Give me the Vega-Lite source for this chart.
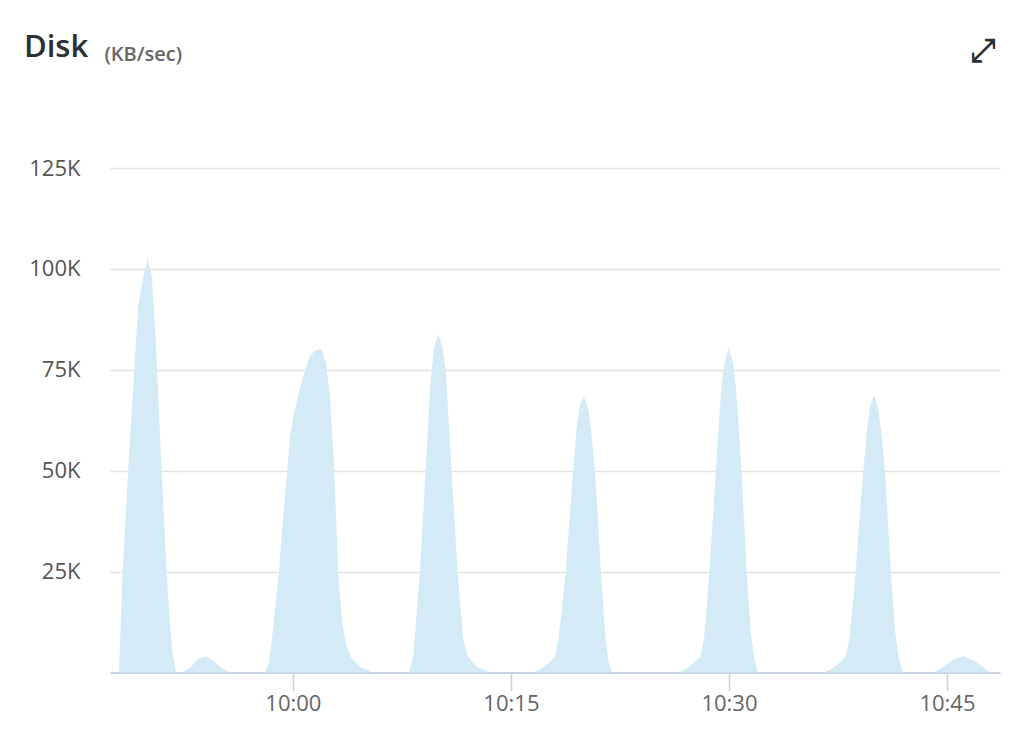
{
  "$schema": "https://vega.github.io/schema/vega-lite/v6.json",
  "width": 890,
  "height": 504.5,
  "autosize": {"type": "none"},
  "padding": {"left": 110, "top": 168, "right": 26, "bottom": 83.5},
  "background": "white",
  "config": {"view": {"stroke": null}, "font": "Open Sans"},
  "title": {"text": "Disk", "anchor": "start", "frame": "group", "dx": -86, "dy": 57, "fontSize": 31, "fontWeight": 600, "color": "#2b2f36", "font": "Open Sans", "baseline": "alphabetic"},
  "data": {"values": [
    {"t": "2024-01-01T09:47:25", "v": 0},
    {"t": "2024-01-01T09:48:02", "v": 0},
    {"t": "2024-01-01T09:48:17", "v": 24800},
    {"t": "2024-01-01T09:48:40", "v": 50000},
    {"t": "2024-01-01T09:49:05", "v": 74800},
    {"t": "2024-01-01T09:49:21", "v": 90700},
    {"t": "2024-01-01T09:49:42", "v": 98100},
    {"t": "2024-01-01T09:50:00", "v": 102500},
    {"t": "2024-01-01T09:50:17", "v": 98500},
    {"t": "2024-01-01T09:50:34", "v": 82400},
    {"t": "2024-01-01T09:50:58", "v": 50000},
    {"t": "2024-01-01T09:51:19", "v": 24700},
    {"t": "2024-01-01T09:51:29", "v": 14800},
    {"t": "2024-01-01T09:51:43", "v": 4800},
    {"t": "2024-01-01T09:51:57", "v": 200},
    {"t": "2024-01-01T09:52:20", "v": 0},
    {"t": "2024-01-01T09:52:55", "v": 1200},
    {"t": "2024-01-01T09:53:29", "v": 3300},
    {"t": "2024-01-01T09:54:01", "v": 4000},
    {"t": "2024-01-01T09:54:31", "v": 3000},
    {"t": "2024-01-01T09:55:05", "v": 1100},
    {"t": "2024-01-01T09:55:40", "v": 0},
    {"t": "2024-01-01T09:58:04", "v": 0},
    {"t": "2024-01-01T09:58:21", "v": 2300},
    {"t": "2024-01-01T09:58:38", "v": 10600},
    {"t": "2024-01-01T09:59:02", "v": 24800},
    {"t": "2024-01-01T09:59:20", "v": 38700},
    {"t": "2024-01-01T09:59:37", "v": 50000},
    {"t": "2024-01-01T09:59:48", "v": 58500},
    {"t": "2024-01-01T10:00:08", "v": 65100},
    {"t": "2024-01-01T10:00:29", "v": 70500},
    {"t": "2024-01-01T10:00:50", "v": 74800},
    {"t": "2024-01-01T10:01:10", "v": 78300},
    {"t": "2024-01-01T10:01:31", "v": 79800},
    {"t": "2024-01-01T10:01:56", "v": 80200},
    {"t": "2024-01-01T10:02:16", "v": 76900},
    {"t": "2024-01-01T10:02:33", "v": 68400},
    {"t": "2024-01-01T10:02:51", "v": 50000},
    {"t": "2024-01-01T10:03:07", "v": 24800},
    {"t": "2024-01-01T10:03:24", "v": 12200},
    {"t": "2024-01-01T10:03:42", "v": 6400},
    {"t": "2024-01-01T10:04:02", "v": 3600},
    {"t": "2024-01-01T10:04:37", "v": 1500},
    {"t": "2024-01-01T10:05:11", "v": 500},
    {"t": "2024-01-01T10:05:25", "v": 0},
    {"t": "2024-01-01T10:07:59", "v": 0},
    {"t": "2024-01-01T10:08:17", "v": 4000},
    {"t": "2024-01-01T10:08:44", "v": 24800},
    {"t": "2024-01-01T10:09:08", "v": 50000},
    {"t": "2024-01-01T10:09:28", "v": 72100},
    {"t": "2024-01-01T10:09:43", "v": 80400},
    {"t": "2024-01-01T10:10:00", "v": 83900},
    {"t": "2024-01-01T10:10:18", "v": 80600},
    {"t": "2024-01-01T10:10:31", "v": 74800},
    {"t": "2024-01-01T10:10:55", "v": 50000},
    {"t": "2024-01-01T10:11:20", "v": 24800},
    {"t": "2024-01-01T10:11:43", "v": 8500},
    {"t": "2024-01-01T10:12:01", "v": 4100},
    {"t": "2024-01-01T10:12:38", "v": 1500},
    {"t": "2024-01-01T10:13:13", "v": 500},
    {"t": "2024-01-01T10:13:26", "v": 0},
    {"t": "2024-01-01T10:16:30", "v": 0},
    {"t": "2024-01-01T10:17:00", "v": 700},
    {"t": "2024-01-01T10:17:34", "v": 2300},
    {"t": "2024-01-01T10:18:02", "v": 4000},
    {"t": "2024-01-01T10:18:15", "v": 7700},
    {"t": "2024-01-01T10:18:29", "v": 15100},
    {"t": "2024-01-01T10:18:46", "v": 24600},
    {"t": "2024-01-01T10:19:01", "v": 37400},
    {"t": "2024-01-01T10:19:17", "v": 50000},
    {"t": "2024-01-01T10:19:31", "v": 60600},
    {"t": "2024-01-01T10:19:45", "v": 66300},
    {"t": "2024-01-01T10:20:01", "v": 68400},
    {"t": "2024-01-01T10:20:19", "v": 65500},
    {"t": "2024-01-01T10:20:33", "v": 58900},
    {"t": "2024-01-01T10:20:47", "v": 50000},
    {"t": "2024-01-01T10:21:12", "v": 24600},
    {"t": "2024-01-01T10:21:28", "v": 10600},
    {"t": "2024-01-01T10:21:42", "v": 3100},
    {"t": "2024-01-01T10:21:58", "v": 0},
    {"t": "2024-01-01T10:26:31", "v": 0},
    {"t": "2024-01-01T10:26:58", "v": 700},
    {"t": "2024-01-01T10:27:33", "v": 2300},
    {"t": "2024-01-01T10:28:03", "v": 4000},
    {"t": "2024-01-01T10:28:17", "v": 8500},
    {"t": "2024-01-01T10:28:28", "v": 16000},
    {"t": "2024-01-01T10:28:39", "v": 24900},
    {"t": "2024-01-01T10:28:53", "v": 37400},
    {"t": "2024-01-01T10:29:06", "v": 50000},
    {"t": "2024-01-01T10:29:19", "v": 62200},
    {"t": "2024-01-01T10:29:30", "v": 71300},
    {"t": "2024-01-01T10:29:43", "v": 77100},
    {"t": "2024-01-01T10:29:59", "v": 80500},
    {"t": "2024-01-01T10:30:17", "v": 76700},
    {"t": "2024-01-01T10:30:29", "v": 70500},
    {"t": "2024-01-01T10:30:45", "v": 57200},
    {"t": "2024-01-01T10:30:52", "v": 50000},
    {"t": "2024-01-01T10:31:13", "v": 24900},
    {"t": "2024-01-01T10:31:31", "v": 9300},
    {"t": "2024-01-01T10:31:44", "v": 4000},
    {"t": "2024-01-01T10:31:59", "v": 0},
    {"t": "2024-01-01T10:36:29", "v": 0},
    {"t": "2024-01-01T10:36:57", "v": 700},
    {"t": "2024-01-01T10:37:31", "v": 2100},
    {"t": "2024-01-01T10:38:02", "v": 4000},
    {"t": "2024-01-01T10:38:15", "v": 7700},
    {"t": "2024-01-01T10:38:29", "v": 15100},
    {"t": "2024-01-01T10:38:43", "v": 24600},
    {"t": "2024-01-01T10:38:58", "v": 37400},
    {"t": "2024-01-01T10:39:15", "v": 50000},
    {"t": "2024-01-01T10:39:29", "v": 59700},
    {"t": "2024-01-01T10:39:42", "v": 65900},
    {"t": "2024-01-01T10:39:59", "v": 68600},
    {"t": "2024-01-01T10:40:16", "v": 65500},
    {"t": "2024-01-01T10:40:30", "v": 58900},
    {"t": "2024-01-01T10:40:44", "v": 50000},
    {"t": "2024-01-01T10:41:09", "v": 24600},
    {"t": "2024-01-01T10:41:25", "v": 10600},
    {"t": "2024-01-01T10:41:42", "v": 3100},
    {"t": "2024-01-01T10:41:59", "v": 0},
    {"t": "2024-01-01T10:44:10", "v": 0},
    {"t": "2024-01-01T10:44:45", "v": 1500},
    {"t": "2024-01-01T10:45:27", "v": 3300},
    {"t": "2024-01-01T10:46:09", "v": 4000},
    {"t": "2024-01-01T10:46:49", "v": 3000},
    {"t": "2024-01-01T10:47:23", "v": 1600},
    {"t": "2024-01-01T10:47:58", "v": 0},
    {"t": "2024-01-01T10:48:39", "v": 0}
  ]},
  "mark": {"type": "area", "color": "#d4eaf7", "interpolate": "linear"},
  "encoding": {
    "x": {
      "field": "t", "type": "temporal",
      "scale": {"domain": [
        {"year": 2024, "month": 1, "date": 1, "hours": 9, "minutes": 47, "seconds": 25},
        {"year": 2024, "month": 1, "date": 1, "hours": 10, "minutes": 48, "seconds": 39}
      ]},
      "axis": {
        "values": [
          {"year": 2024, "month": 1, "date": 1, "hours": 10, "minutes": 0},
          {"year": 2024, "month": 1, "date": 1, "hours": 10, "minutes": 15},
          {"year": 2024, "month": 1, "date": 1, "hours": 10, "minutes": 30},
          {"year": 2024, "month": 1, "date": 1, "hours": 10, "minutes": 45}
        ],
        "format": "%H:%M",
        "grid": false,
        "domainColor": "#c9d0e4", "domainWidth": 2,
        "tickColor": "#c9d0e4", "tickSize": 18, "tickWidth": 1.5,
        "labelFont": "Open Sans", "labelFontSize": 22, "labelColor": "#666666", "labelPadding": 3,
        "title": "⤢", "titleX": 872, "titleY": -622, "titleAlign": "center", "titleBaseline": "middle",
        "titleFontSize": 32, "titleColor": "#2b2f36", "titleFont": "DejaVu Sans", "titleFontWeight": "bold"
      }
    },
    "y": {
      "field": "v", "type": "quantitative",
      "scale": {"domain": [0, 125000], "nice": false},
      "axis": {
        "values": [25000, 50000, 75000, 100000, 125000],
        "labelExpr": "datum.value / 1000 + 'K'",
        "domain": false, "ticks": false, "tickSize": 0, "labelPadding": 30,
        "gridColor": "#e3e3e3", "gridWidth": 1.5,
        "labelFont": "Open Sans", "labelFontSize": 22, "labelColor": "#555555",
        "title": "(KB/sec)", "titleAngle": 0, "titleX": -6, "titleY": -108, "titleAlign": "left", "titleBaseline": "alphabetic",
        "titleFont": "Open Sans", "titleFontSize": 20, "titleFontWeight": 600, "titleColor": "#666666"
      }
    }
  }
}
